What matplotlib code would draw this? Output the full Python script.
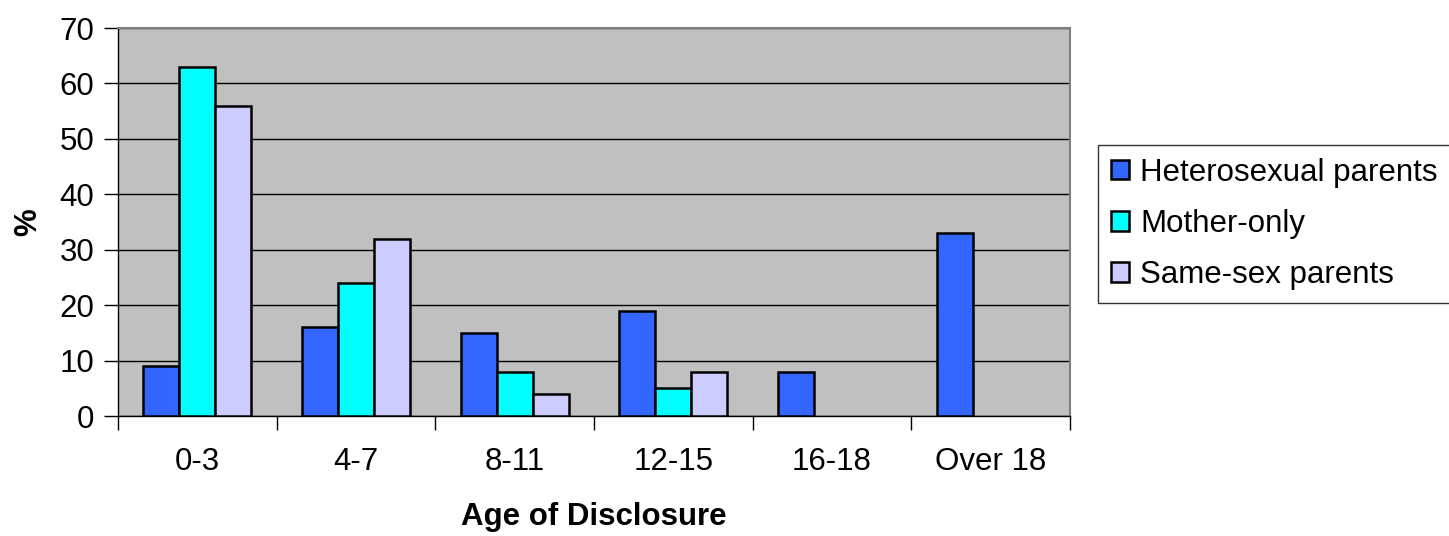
import matplotlib
matplotlib.use("Agg")
import matplotlib.pyplot as plt
import numpy as np

plt.rcParams['font.family'] = ['Liberation Sans', 'DejaVu Sans']

categories = ["0-3", "4-7", "8-11", "12-15", "16-18", "Over 18"]
heterosexual = [9, 16, 15, 19, 8, 33]
mother_only = [63, 24, 8, 5, 0, 0]
same_sex = [56, 32, 4, 8, 0, 0]
series_names = ["Heterosexual parents", "Mother-only", "Same-sex parents"]
colors = ["#3366FF", "#00FFFF", "#CCCCFF"]

FS = 22.5

fig = plt.figure(figsize=(14.49, 5.36), dpi=100)
ax = fig.add_axes([118/1449, 120/536, 952/1449, 388/536])
ax.set_facecolor("#C0C0C0")

x = np.arange(len(categories))
w = 0.227
for i, (vals, name, c) in enumerate(zip([heterosexual, mother_only, same_sex], series_names, colors)):
    v = np.array(vals, dtype=float)
    mask = v > 0
    ax.bar(x[mask] + (i - 1) * w, v[mask], width=w, color=c, edgecolor="black",
           linewidth=1.8, label=name, zorder=3)

ax.set_xlim(-0.5, len(categories) - 0.5)
ax.set_ylim(0, 70)
ax.set_yticks(range(0, 71, 10))
ax.yaxis.grid(True, color="black", linewidth=1.0, zorder=1)
ax.set_axisbelow(True)

ax.set_xticks(np.arange(-0.5, len(categories), 1.0), minor=False)
ax.set_xticklabels([])
ax.set_xticks(x, minor=True)
ax.set_xticklabels(categories, minor=True)
ax.tick_params(axis='x', which='major', length=10, direction='out', width=1)
ax.tick_params(axis='x', which='minor', length=0, pad=22, labelsize=FS)
ax.tick_params(axis='y', length=10, width=1, labelsize=FS, pad=7)

for s in ["top", "right"]:
    ax.spines[s].set_color("#808080")
    ax.spines[s].set_linewidth(1.5)
for s in ["left", "bottom"]:
    ax.spines[s].set_color("black")
    ax.spines[s].set_linewidth(1.0)

ax.set_xlabel("Age of Disclosure", fontsize=FS, fontweight="bold", labelpad=18)
ax.set_ylabel("%", fontsize=FS, fontweight="bold", labelpad=12)

leg = ax.legend(loc="upper left", bbox_to_anchor=(1098/1449, (536-145)/536),
                bbox_transform=fig.transFigure, fontsize=FS, frameon=True,
                fancybox=False, edgecolor="black", handlelength=0.6, handleheight=0.6,
                handletextpad=0.35, labelspacing=0.68, borderpad=0.4, borderaxespad=0,
                shadow=False)
leg.get_frame().set_linewidth(1.0)

fig.savefig("out.png", dpi=100, facecolor="white")
